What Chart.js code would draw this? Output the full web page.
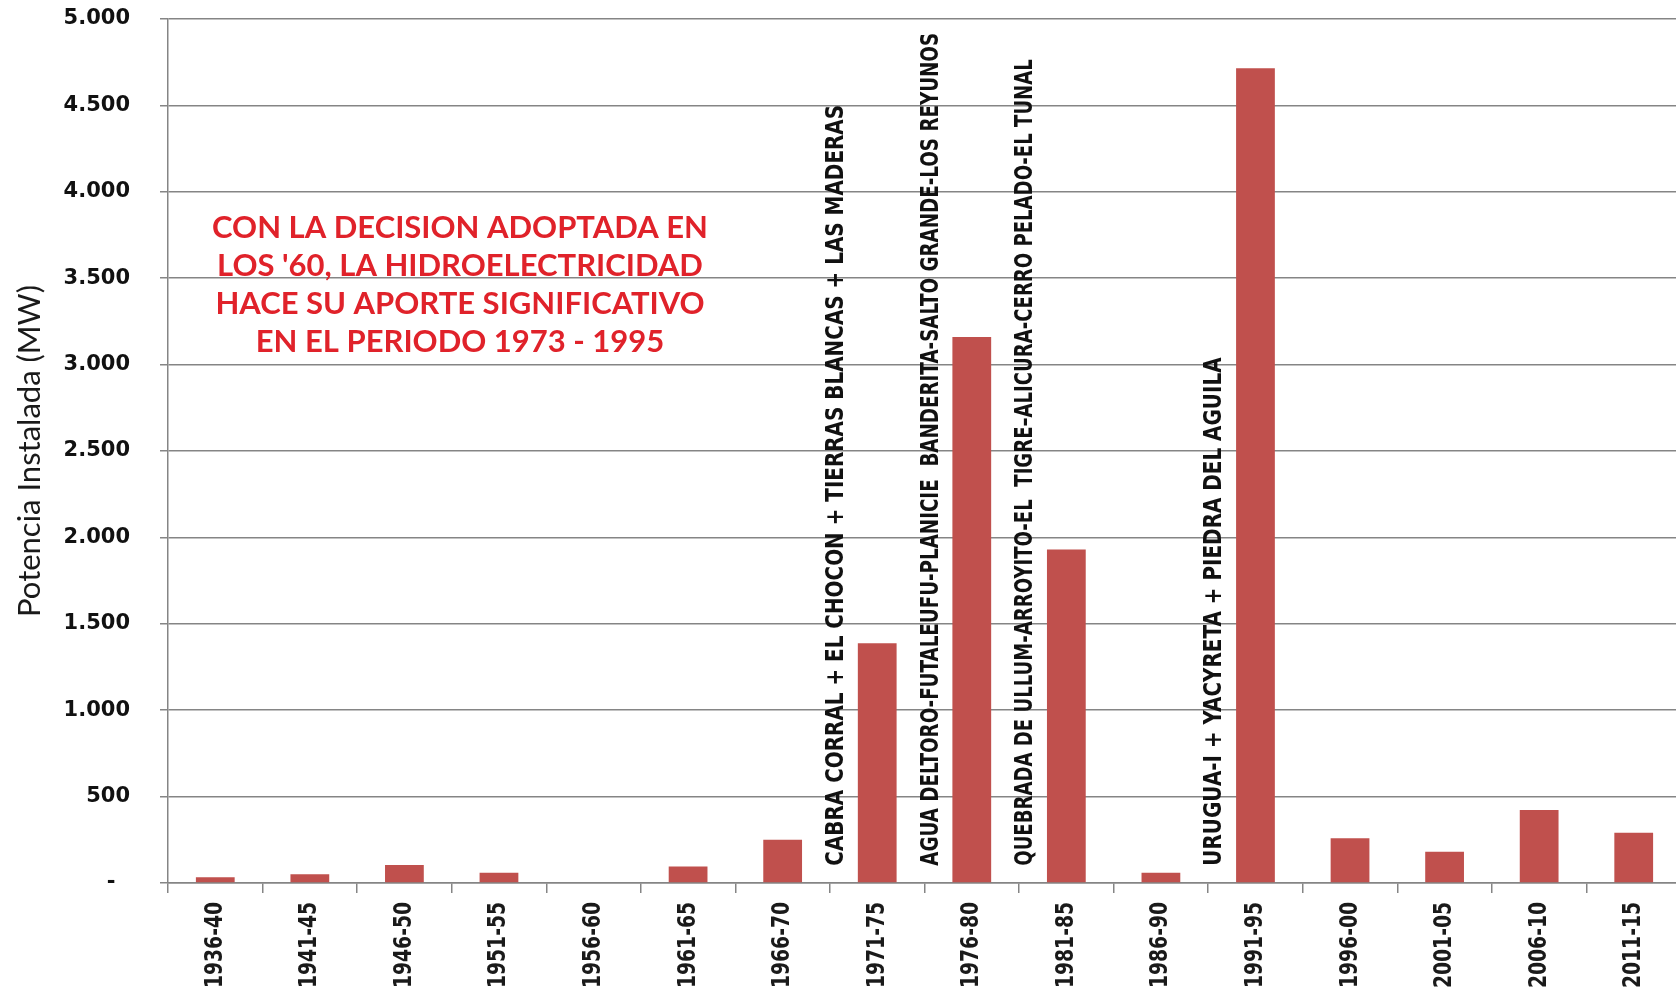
<!DOCTYPE html>
<html>
<head>
<meta charset="utf-8">
<title>Potencia hidroeléctrica instalada por quinquenio</title>
<script src="https://cdn.jsdelivr.net/npm/chart.js@4.4.1/dist/chart.umd.min.js"></script>
<style>
  html, body { margin: 0; padding: 0; background: #ffffff; overflow: hidden; }
  #wrap { position: relative; width: 1684px; height: 991px; }
</style>
</head>
<body>
<div id="wrap"><canvas id="grafico"></canvas></div>
<script>
// Quinquenios y potencia instalada en cada uno (MW)
const periodos = ['1936-40', '1941-45', '1946-50', '1951-55', '1956-60', '1961-65', '1966-70', '1971-75',
                  '1976-80', '1981-85', '1986-90', '1991-95', '1996-00', '2001-05', '2006-10', '2011-15'];
const potenciaMW = [33, 50, 104, 60, 0, 95, 250, 1388, 3160, 1930, 60, 4715, 259, 181, 422, 291];

// Rótulos del eje vertical (formato con punto de miles, guion para el cero)
const yTickLabels = ['-  ', '500', '1.000', '1.500', '2.000', '2.500', '3.000', '3.500', '4.000', '4.500', '5.000'];

// Obras hidroeléctricas que explican los saltos de potencia
const obraPeriodos = ['1971-75', '1976-80', '1981-85', '1991-95'];
const obraTextos = [
  'CABRA CORRAL + EL CHOCON + TIERRAS BLANCAS + LAS MADERAS',
  'AGUA DELTORO-FUTALEUFU-PLANICIE  BANDERITA-SALTO GRANDE-LOS REYUNOS',
  'QUEBRADA DE ULLUM-ARROYITO-EL  TIGRE\u2013ALICURA-CERRO PELADO-EL TUNAL',
  'URUGUA-I + YACYRETA + PIEDRA DEL AGUILA'
];

// Nota destacada
const notaLineas = [
  'CON LA DECISION ADOPTADA EN',
  "LOS '60, LA HIDROELECTRICIDAD",
  'HACE SU APORTE SIGNIFICATIVO',
  'EN EL PERIODO 1973 - 1995'
];

const GRIS = '#858585';
// Estrechamiento horizontal de cada texto vertical (los más largos, más apretados)
const obraCompresion = [0.83, 0.762, 0.754, 0.83];

// Rótulos del eje de categorías: verticales y en letra estrecha
const rotulosXPlugin = {
  id: 'rotulosX',
  afterDraw(chart) {
    const { ctx, scales: { x } } = chart;
    ctx.save();
    ctx.font = 'bold 25px "DejaVu Sans", sans-serif';
    ctx.fillStyle = '#1a1a1a';
    ctx.textAlign = 'right';
    ctx.textBaseline = 'middle';
    x.ticks.forEach((t, i) => {
      ctx.save();
      ctx.translate(x.getPixelForTick(i), x.top + 19);
      ctx.rotate(-Math.PI / 2);
      ctx.scale(0.75, 1);
      ctx.fillText(periodos[t.value], 0, 0);
      ctx.restore();
    });
    ctx.restore();
  }
};

// Textos verticales de las obras, apoyados justo sobre el eje
const obrasPlugin = {
  id: 'obras',
  afterDatasetsDraw(chart) {
    const { ctx, scales: { x, y } } = chart;
    const paso = x.getPixelForValue(1) - x.getPixelForValue(0);
    ctx.save();
    ctx.font = 'bold 24px "DejaVu Sans", sans-serif';
    ctx.fillStyle = '#111111';
    ctx.textAlign = 'left';
    ctx.textBaseline = 'middle';
    obraPeriodos.forEach((p, k) => {
      const i = periodos.indexOf(p);
      const px = x.getPixelForValue(i) - paso / 2 + 7;
      const py = y.getPixelForValue(100);
      ctx.save();
      ctx.translate(px, py);
      ctx.rotate(-Math.PI / 2);
      ctx.scale(obraCompresion[k], 1);
      ctx.fillText(obraTextos[k], 0, 0);
      ctx.restore();
    });
    ctx.restore();
  }
};

// Nota en rojo en la zona libre del gráfico
const notaPlugin = {
  id: 'nota',
  afterDatasetsDraw(chart) {
    const { ctx, scales: { x, y } } = chart;
    ctx.save();
    ctx.font = 'bold 31px Lato, "Open Sans", sans-serif';
    ctx.fillStyle = '#e0222a';
    ctx.textAlign = 'center';
    ctx.textBaseline = 'middle';
    const cx = x.left + (x.right - x.left) * 0.193;
    const y0 = y.getPixelForValue(3790);
    notaLineas.forEach((t, k) => ctx.fillText(t, cx, y0 + k * 38));
    ctx.restore();
  }
};

new Chart(document.getElementById('grafico'), {
  type: 'bar',
  data: {
    labels: periodos,
    datasets: [{
      data: potenciaMW,
      backgroundColor: '#c0504d',
      borderWidth: 0,
      barPercentage: 0.41,
      categoryPercentage: 1.0
    }]
  },
  options: {
    responsive: true,
    maintainAspectRatio: false,
    animation: false,
    devicePixelRatio: 1,
    layout: { padding: { top: 19, right: 3, left: 0, bottom: 0 } },
    plugins: { legend: { display: false }, tooltip: { enabled: false } },
    scales: {
      x: {
        type: 'category',
        grid: { display: true, drawOnChartArea: false, drawTicks: true, tickLength: 10, color: GRIS, lineWidth: 1.5 },
        border: { display: true, color: GRIS, width: 1.5 },
        ticks: { autoSkip: false, display: false },
        afterFit(scale) { scale.height = 108; scale.paddingLeft = 0; scale.paddingRight = 0; }
      },
      y: {
        min: 0, max: 5000,
        grid: { color: GRIS, lineWidth: 1.5, tickLength: 8 },
        border: { display: true, color: GRIS, width: 1.5 },
        ticks: {
          stepSize: 500, padding: 30,
          color: '#111111',
          font: { family: '"DejaVu Sans", Verdana, sans-serif', size: 21, weight: 'bold' },
          callback: (v, i) => yTickLabels[i]
        },
        title: {
          display: true, text: 'Potencia Instalada (MW)',
          color: '#1a1a1a',
          font: { family: 'Lato, "Open Sans", sans-serif', size: 31, weight: 'normal' },
          padding: { top: 11, bottom: 0 }
        },
        afterFit(scale) { scale.width = 168; scale.paddingTop = 0; scale.paddingBottom = 0; }
      }
    }
  },
  plugins: [obrasPlugin, notaPlugin, rotulosXPlugin]
});
</script>
</body>
</html>
